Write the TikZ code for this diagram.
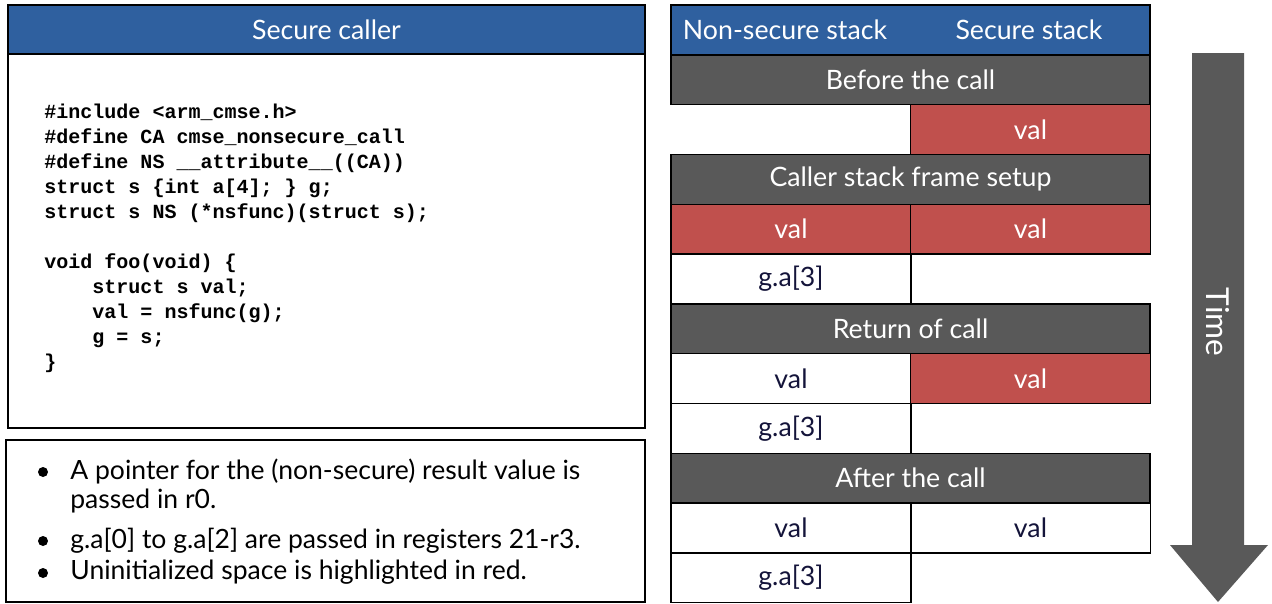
\documentclass[tikz,border=0pt]{standalone}
\usepackage{fontspec}
\usepackage{tikz}
\setmainfont{Lato}
\newfontfamily\codefont{Liberation Mono}[BoldFont={Liberation Mono Bold}]
\definecolor{hblue}{HTML}{2F609F}
\definecolor{sgray}{HTML}{595959}
\definecolor{ured}{HTML}{C0504D}
\definecolor{ink}{HTML}{14143A}
\usetikzlibrary{positioning}

\begin{document}
\begin{tikzpicture}[x=0.02cm, y=-0.02cm]
    \tikzset{cell/.style={
      draw=black,
      line width=0.8pt,
      minimum width=4.8cm,
      minimum height=0.996cm,
      inner sep=0pt,
      text=ink,
      font=\fontsize{15.2}{18}\selectfont},
      stage/.style={cell, fill=sgray, text=white, minimum width=9.58cm},
      uninit/.style={cell, fill=ured, text=white},
      hdr/.style={stage, fill=hblue}}
    \useasboundingbox (0, 0) rectangle (1272, 603);
    % left: code of the secure caller
    \node at (326.5, 29.5) [draw=black, line width=1pt, fill=hblue, minimum width=12.74cm,
      minimum height=0.98cm, text=white, font=\fontsize{15.2}{18}\selectfont] (caller) {Secure caller};
    \node at (326.5, 241) [draw=black, line width=1pt, minimum width=12.74cm, minimum height=7.48cm] (code) {};
    \node at (44, 104) [anchor=north west, inner sep=0pt, align=left,
      font=\codefont\bfseries\fontsize{11.4}{14.2}\selectfont] (src) {%
      \#include <arm\_cmse.h>\\
      \#define CA cmse\_nonsecure\_call\\
      \#define NS \_\_attribute\_\_((CA))\\
      struct s \{int a[4]; \} g;\\
      struct s NS (*nsfunc)(struct s);\\
      \mbox{}\\
      void foo(void) \{\\
      \phantom{xxxx}struct s val;\\
      \phantom{xxxx}val = nsfunc(g);\\
      \phantom{xxxx}g = s;\\
      \}};
    % left: notes
    \node at (325.5, 521) [draw=black, line width=0.8pt, minimum width=12.78cm, minimum height=3.24cm] (notes) {};
    \tikzset{note/.style={anchor=north west, inner sep=0pt, align=left,
      font=\fontsize{15.1}{16.4}\selectfont},
      dot/.style={circle, fill=black, inner sep=0pt, minimum size=0.2cm}}
    \node at (43, 472) [dot] (d1) {};
    \node at (70, 459) [note] (n1) {A pointer for the (non-secure) result value is\\passed in r0.};
    \node at (43, 541) [dot] (d2) {};
    \node at (70, 528) [note] (n2) {g.a[0] to g.a[2] are passed in registers 21-r3.};
    \node at (43, 573) [dot] (d3) {};
    \node at (70, 560) [note] (n3) {Uninitialized space is highlighted in red.};
    % right: stack states
    \node at (910.5, 29.9) [hdr] (head) {};
    \node at (785, 29.9) [text=white, font=\fontsize{15.2}{18}\selectfont] (nsec) {Non-secure stack};
    \node at (1029, 29.9) [text=white, font=\fontsize{15.2}{18}\selectfont] (sec) {Secure stack};
    \node at (910.5, 79.7) [stage] (before) {Before the call};
    \node at (1030.5, 129.5) [uninit] (b1) {val};
    \node at (910.5, 179.3) [stage] (setup) {Caller stack frame setup};
    \node at (791, 229.1) [uninit] (s0) {val};
    \node at (1030.5, 229.1) [uninit] (s1) {val};
    \node at (791, 278.9) [cell] (s2) {g.a[3]};
    \node at (910.5, 328.7) [stage] (ret) {Return of call};
    \node at (791, 378.5) [cell] (r0) {val};
    \node at (1030.5, 378.5) [uninit] (r1) {val};
    \node at (791, 428.3) [cell] (r2) {g.a[3]};
    \node at (910.5, 478.1) [stage] (after) {After the call};
    \node at (791, 527.9) [cell] (a0) {val};
    \node at (1030.5, 527.9) [cell] (a1) {val};
    \node at (791, 577.7) [cell] (a2) {g.a[3]};
    % time arrow
    \fill[sgray] (1192, 53) -- (1244, 53) -- (1244, 545) -- (1268, 545) -- (1218, 602)
      -- (1170, 545) -- (1192, 545) -- cycle;
    \node at (1218, 322) [rotate=-90, text=white, font=\fontsize{18}{21}\selectfont] (time) {Time};
  \end{tikzpicture}
\end{document}
